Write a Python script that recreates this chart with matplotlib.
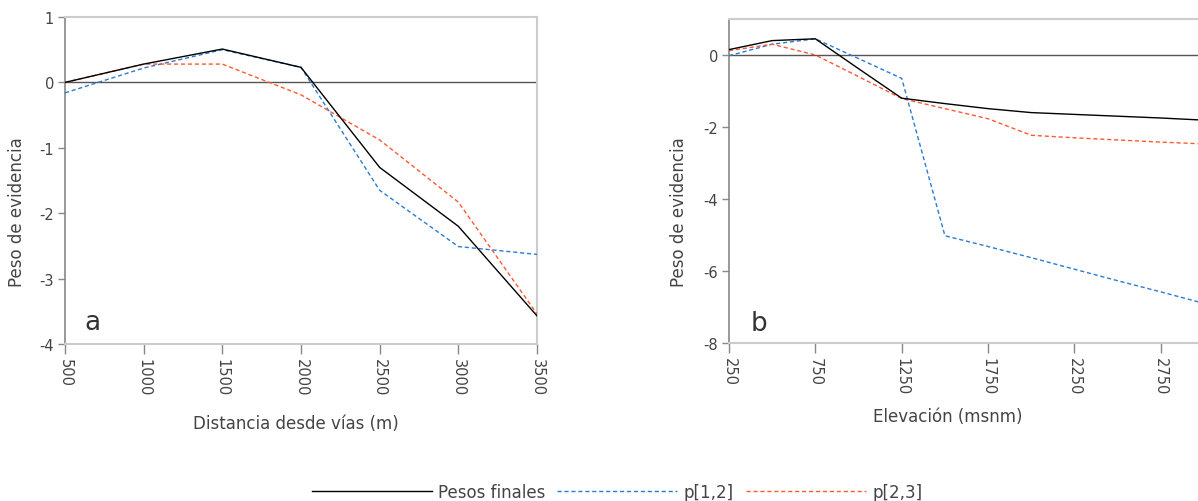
import matplotlib
matplotlib.use("Agg")
import matplotlib.pyplot as plt
from matplotlib.lines import Line2D

# Panel a: distance from roads
dist_x = [500, 1000, 1500, 2000, 2500, 3000, 3500]
dist_final = [0.0, 0.28, 0.51, 0.23, -1.30, -2.20, -3.57]
dist_p12 = [-0.16, 0.22, 0.50, 0.23, -1.65, -2.51, -2.63]
dist_p23 = [0.0, 0.28, 0.28, -0.19, -0.88, -1.83, -3.54]
dist_ticks = [500, 1000, 1500, 2000, 2500, 3000, 3500]

# Panel b: elevation
elev_x = [250, 500, 750, 1000, 1250, 1500, 1750, 2000, 2250, 2500, 2750, 3000]
elev_final = [0.15, 0.40, 0.45, -0.38, -1.20, -1.35, -1.49, -1.60, -1.65, -1.70, -1.75, -1.81]
elev_p12 = [-0.02, 0.30, 0.45, -0.10, -0.65, -5.02, -5.32, -5.63, -5.95, -6.27, -6.58, -6.90]
elev_p23 = [0.12, 0.30, 0.0, -0.60, -1.21, -1.49, -1.77, -2.23, -2.30, -2.36, -2.42, -2.47]
elev_ticks = [250, 750, 1250, 1750, 2250, 2750]

series_names = ["Pesos finales", "p[1,2]", "p[2,3]"]
C_FINAL = "#000000"
C_P12 = "#2a7bd4"
C_P23 = "#ff5a30"
DASH = (3, 2)
TXT = "#444444"
LIGHT = "#cccccc"

W, H = 1198, 502
fig = plt.figure(figsize=(W / 100, H / 100), dpi=100)
plt.rcParams['font.family'] = ['DejaVu Sans']


def px_axes(l, r, t, b):
    return fig.add_axes([l / W, 1 - b / H, (r - l) / W, (b - t) / H])


def style(ax, xticks, yticks):
    for s in ["top", "right", "bottom"]:
        ax.spines[s].set_color(LIGHT)
        ax.spines[s].set_linewidth(1.5)
    ax.spines["left"].set_color("#888888")
    ax.spines["left"].set_linewidth(1.2)
    ax.set_xticks(xticks)
    ax.set_yticks(yticks)
    ax.set_xticklabels([str(v) for v in xticks], rotation=-90, fontsize=10.5, color=TXT)
    ax.set_yticklabels([str(v) for v in yticks], fontsize=10.5, color=TXT)
    ax.tick_params(axis="x", direction="out", length=7, width=1, color="#888888", pad=3)
    ax.tick_params(axis="y", direction="out", length=5, width=1, color="#888888", pad=3)
    ax.axhline(0, color="#555555", lw=1, zorder=1)


def draw(ax, x, f, p12, p23):
    ax.plot(x, f, color=C_FINAL, lw=1, zorder=4)
    ax.plot(x, p12, color=C_P12, lw=1, dashes=DASH, zorder=3)
    ax.plot(x, p23, color=C_P23, lw=1, dashes=DASH, zorder=3)


# Panel a
axa = px_axes(65, 537, 18, 345)
draw(axa, dist_x, dist_final, dist_p12, dist_p23)
axa.set_xlim(500, 3500)
axa.set_ylim(-4, 1)
style(axa, dist_ticks, [-4, -3, -2, -1, 0, 1])
axa.set_ylabel("Peso de evidencia", fontsize=12, color=TXT, va="center")
axa.yaxis.set_label_coords((17 - 65) / (537 - 65), (345 - 212) / (345 - 18))
axa.set_xlabel("Distancia desde vías (m)", fontsize=12, color=TXT)
axa.xaxis.set_label_coords(0.49, (345 - 424) / (345 - 18))
axa.xaxis.label.set_va("center")
axa.text(0.04, 0.045, "a", transform=axa.transAxes, fontsize=19, color="#333333")

# Panel b
axb = px_axes(729, 1204, 20, 344)
draw(axb, elev_x, elev_final, elev_p12, elev_p23)
axb.set_xlim(250, 3000)
axb.set_ylim(-8, 1)
style(axb, elev_ticks, [-8, -6, -4, -2, 0])
axb.set_ylabel("Peso de evidencia", fontsize=12, color=TXT, va="center")
axb.yaxis.set_label_coords((679 - 729) / (1204 - 729), (344 - 212) / (344 - 20))
axb.set_xlabel("Elevación (msnm)", fontsize=12, color=TXT)
axb.xaxis.set_label_coords((948 - 729) / (1204 - 729), (344 - 417) / (344 - 20))
axb.xaxis.label.set_va("center")
axb.text(0.045, 0.04, "b", transform=axb.transAxes, fontsize=19, color="#333333")

handles = [
    Line2D([], [], color=C_FINAL, lw=1),
    Line2D([], [], color=C_P12, lw=1, dashes=DASH),
    Line2D([], [], color=C_P23, lw=1, dashes=DASH),
]
leg = fig.legend(handles, series_names, loc="center", bbox_to_anchor=(617 / W, 1 - 493 / H),
                 ncol=3, frameon=False, fontsize=12, handlelength=7.2, handletextpad=0.4,
                 columnspacing=0.7, borderpad=0)
for t in leg.get_texts():
    t.set_color(TXT)

fig.savefig("out.png", dpi=100)
